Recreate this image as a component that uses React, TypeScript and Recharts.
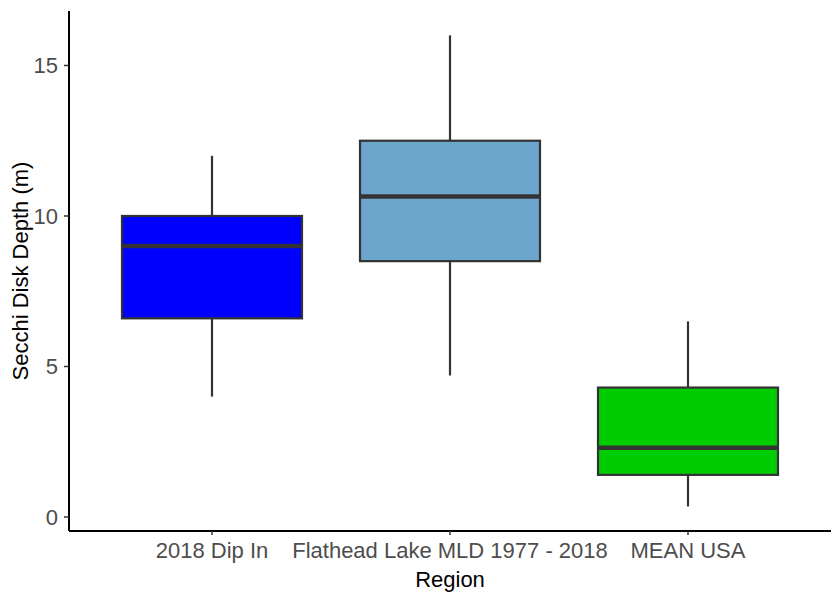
import { Bar, Cell, ComposedChart, XAxis, YAxis } from "recharts";

// Secchi depth summary per region (m)
const regions = ["2018 Dip In", "Flathead Lake MLD 1977 - 2018", "MEAN USA"];
const lowWhisker = [4.0, 4.7, 0.35];
const lowerQuartile = [6.6, 8.5, 1.4];
const medians = [9.0, 10.65, 2.3];
const upperQuartile = [10.0, 12.5, 4.3];
const highWhisker = [12.0, 16.0, 6.5];
const yTicks = [0, 5, 10, 15];

const boxFills = ["#0000FF", "#6CA6CD", "#00CD00"];

const data = regions.map((region, i) => ({
  region,
  min: lowWhisker[i],
  q1: lowerQuartile[i],
  median: medians[i],
  q3: upperQuartile[i],
  max: highWhisker[i],
}));

const FONT = "Arial, 'Liberation Sans', sans-serif";
const EDGE = "#333333";

function BoxShape(props: any) {
  const { x, y, width, height, payload, fill } = props;
  const { min, q1, median, q3, max } = payload;
  // map a value into the pixel range the bar got for [min, max]
  const toY = (v: number) => y + (height * (max - v)) / (max - min);
  const cx = x + width / 2;
  return (
    <g>
      <line x1={cx} x2={cx} y1={toY(max)} y2={toY(q3)} stroke={EDGE} strokeWidth={2.2} />
      <line x1={cx} x2={cx} y1={toY(q1)} y2={toY(min)} stroke={EDGE} strokeWidth={2.2} />
      <rect
        x={x}
        y={toY(q3)}
        width={width}
        height={toY(q1) - toY(q3)}
        fill={fill}
        stroke={EDGE}
        strokeWidth={2.2}
      />
      <line x1={x} x2={x + width} y1={toY(median)} y2={toY(median)} stroke={EDGE} strokeWidth={4.5} />
    </g>
  );
}

function XTick({ x, y, payload }: any) {
  return (
    <text x={x} y={y + 21} textAnchor="middle" fontFamily={FONT} fontSize={22} fill="#4D4D4D">
      {payload.value}
    </text>
  );
}

function YTick({ x, y, payload }: any) {
  return (
    <text x={x - 4} y={y + 8} textAnchor="end" fontFamily={FONT} fontSize={22} fill="#4D4D4D">
      {payload.value}
    </text>
  );
}

function YTitle({ viewBox }: any) {
  const cy = viewBox.y + viewBox.height / 2;
  const bx = 28;
  return (
    <text
      x={bx}
      y={cy}
      transform={`rotate(-90, ${bx}, ${cy})`}
      textAnchor="middle"
      fontFamily={FONT}
      fontSize={22}
      fill="#000"
    >
      Secchi Disk Depth (m)
    </text>
  );
}

export default function App() {
  return (
    <div style={{ position: "absolute", left: 0, top: 0, background: "#fff" }}>
      <ComposedChart
        width={833}
        height={593}
        data={data}
        margin={{ top: 11, right: 2, bottom: 0, left: 0 }}
      >
        <XAxis
          dataKey="region"
          type="category"
          height={62}
          padding={{ left: 24, right: 24 }}
          axisLine={{ stroke: "#000", strokeWidth: 2 }}
          tickLine={{ stroke: EDGE, strokeWidth: 1.5 }}
          tickSize={4}
          tick={<XTick />}
          interval={0}
          label={{
            value: "Region",
            position: "insideBottom",
            offset: 6,
            fontSize: 22,
            fontFamily: FONT,
            fill: "#000",
          }}
        />
        <YAxis
          type="number"
          width={69}
          domain={[-0.465, 16.81]}
          ticks={yTicks}
          allowDataOverflow
          axisLine={{ stroke: "#000", strokeWidth: 2 }}
          tickLine={{ stroke: EDGE, strokeWidth: 1.5 }}
          tickSize={5}
          tick={<YTick />}
          label={{ content: <YTitle /> }}
        />
        <Bar
          dataKey={(d: any) => [d.min, d.max]}
          barSize={180}
          shape={<BoxShape />}
          isAnimationActive={false}
        >
          {data.map((d, i) => (
            <Cell key={d.region} fill={boxFills[i]} />
          ))}
        </Bar>
      </ComposedChart>
    </div>
  );
}
